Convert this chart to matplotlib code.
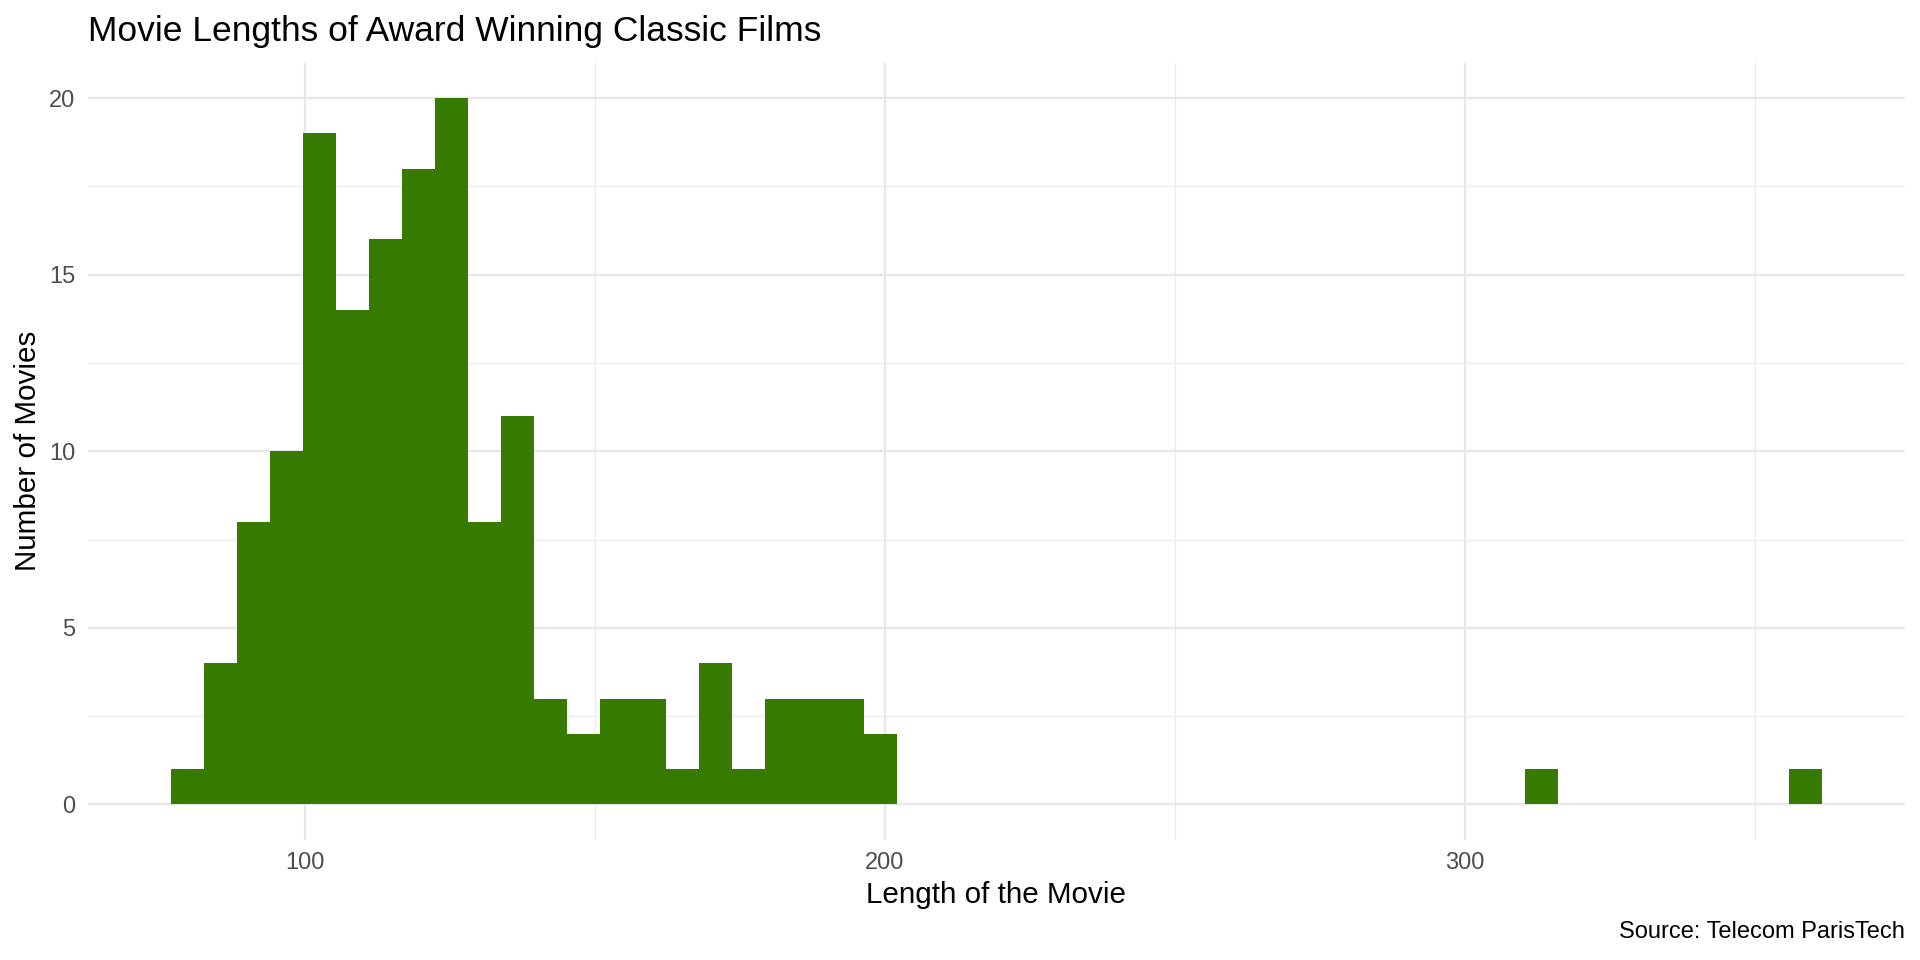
import numpy as np
import matplotlib
matplotlib.use("Agg")
import matplotlib.pyplot as plt
from matplotlib.ticker import FixedLocator

# histogram bins
bin_start = 76.9
bin_width = 5.695
counts = [1, 4, 8, 10, 19, 14, 16, 18, 20, 8,
          11, 3, 2, 3, 3, 1, 4, 1, 3, 3,
          3, 2, 0, 0, 0, 0, 0, 0, 0, 0,
          0, 0, 0, 0, 0, 0, 0, 0, 0, 0,
          0, 1, 0, 0, 0, 0, 0, 0, 0, 1]

x_major = [100, 200, 300]
x_minor = [50, 150, 250, 350]
y_major = [0, 5, 10, 15, 20]
y_minor = [2.5, 7.5, 12.5, 17.5]

plt.rcParams['font.family'] = ['Liberation Sans', 'DejaVu Sans']

edges = bin_start + bin_width * np.arange(len(counts) + 1)

fig = plt.figure(figsize=(19.2, 9.6), dpi=100)
ax = fig.add_axes([88/1920, 1 - 839.8/960, (1905 - 88)/1920, (839.8 - 62.7)/960])

ax.bar(edges[:-1], counts, width=bin_width, align='edge',
       color='#377A00', linewidth=0, zorder=3)

# ggplot-style 5% expansion
span = edges[-1] - edges[0]
ax.set_xlim(edges[0] - 0.05 * span, edges[-1] + 0.05 * span)
ax.set_ylim(-1, 21)

ax.xaxis.set_major_locator(FixedLocator(x_major))
ax.xaxis.set_minor_locator(FixedLocator(x_minor))
ax.yaxis.set_major_locator(FixedLocator(y_major))
ax.yaxis.set_minor_locator(FixedLocator(y_minor))
ax.grid(which='major', color='#E8E8E8', linewidth=1.7, zorder=0)
ax.grid(which='minor', color='#EBEBEB', linewidth=0.9, zorder=0)
ax.tick_params(which='both', length=0)
ax.tick_params(axis='both', labelsize=17, labelcolor='#4D4D4D')
ax.tick_params(axis='x', pad=9)
ax.tick_params(axis='y', pad=9)
for s in ax.spines.values():
    s.set_visible(False)

ax.set_xlabel("Length of the Movie", fontsize=21.3, labelpad=5)
ax.set_ylabel("Number of Movies", fontsize=21.3, labelpad=5)

fig.text(88/1920, 1 - 41/960, "Movie Lengths of Award Winning Classic Films",
         fontsize=25.5, ha='left', va='baseline')
fig.text(1905/1920, 1 - 932/960, "Source: Telecom ParisTech",
         fontsize=17, ha='right', va='center')

fig.savefig("out.png", dpi=100, facecolor='white')
